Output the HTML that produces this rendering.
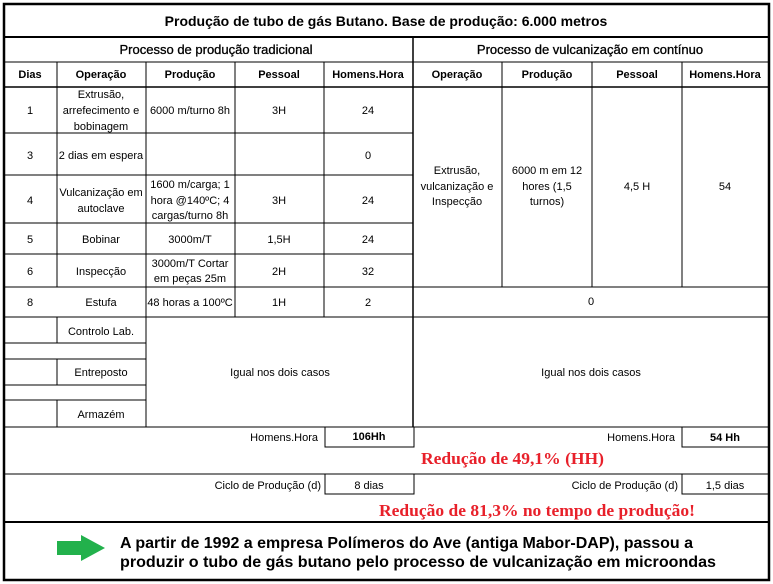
<!DOCTYPE html>
<html><head><meta charset="utf-8"><style>
html,body{margin:0;padding:0;background:#fff;width:773px;height:584px;overflow:hidden}
svg{display:block}
text{font-family:"Liberation Sans",sans-serif;fill:#000}
.c{font-size:11px;text-anchor:middle}
.h{font-size:11px;font-weight:bold;text-anchor:middle}
.r{font-family:"Liberation Serif",serif;font-size:17px;font-weight:bold;fill:#e8202a}
</style></head><body>
<svg width="773" height="584" viewBox="0 0 773 584">
<g stroke="#000" stroke-width="1" fill="none">
<line x1="4" y1="37" x2="769" y2="37" stroke-width="2"/>
<line x1="4" y1="62" x2="769" y2="62"/>
<line x1="4" y1="87" x2="769" y2="87" stroke-width="1.5"/>
<line x1="4" y1="133" x2="413" y2="133"/>
<line x1="4" y1="175" x2="413" y2="175"/>
<line x1="4" y1="223" x2="413" y2="223"/>
<line x1="4" y1="254" x2="413" y2="254"/>
<line x1="4" y1="287" x2="769" y2="287"/>
<line x1="4" y1="317" x2="769" y2="317"/>
<line x1="4" y1="343" x2="146" y2="343"/>
<line x1="4" y1="359" x2="146" y2="359"/>
<line x1="4" y1="385" x2="146" y2="385"/>
<line x1="4" y1="400" x2="146" y2="400"/>
<line x1="4" y1="427" x2="769" y2="427"/>
<line x1="4" y1="474" x2="769" y2="474"/>
<line x1="4" y1="522" x2="769" y2="522" stroke-width="2"/>
<rect x="325" y="427" width="89" height="20"/>
<rect x="682" y="427" width="87" height="20"/>
<rect x="325" y="474" width="89" height="20"/>
<rect x="682" y="474" width="87" height="20"/>
<line x1="57" y1="62" x2="57" y2="287"/>
<line x1="146" y1="62" x2="146" y2="427"/>
<line x1="235" y1="62" x2="235" y2="317"/>
<line x1="324" y1="62" x2="324" y2="317"/>
<line x1="413" y1="37" x2="413" y2="427" stroke-width="1.5"/>
<line x1="502" y1="62" x2="502" y2="287"/>
<line x1="592" y1="62" x2="592" y2="287"/>
<line x1="682" y1="62" x2="682" y2="287"/>
<line x1="57" y1="317" x2="57" y2="343"/>
<line x1="57" y1="359" x2="57" y2="385"/>
<line x1="57" y1="400" x2="57" y2="427"/>
<rect x="4" y="4" width="765" height="576" stroke-width="2.5"/>
</g>
<text x="386" y="26" style="font-size:14px;font-weight:bold;text-anchor:middle">Produção de tubo de gás Butano. Base de produção: 6.000 metros</text>
<text x="216" y="54" style="font-size:13px;text-anchor:middle;stroke:#000;stroke-width:0.3">Processo de produção tradicional</text>
<text x="590" y="54" style="font-size:13px;text-anchor:middle;stroke:#000;stroke-width:0.3">Processo de vulcanização em contínuo</text>
<text class="h" x="30" y="78">Dias</text><text class="h" x="101" y="78">Operação</text><text class="h" x="190" y="78">Produção</text><text class="h" x="279" y="78">Pessoal</text><text class="h" x="368" y="78">Homens.Hora</text>
<text class="h" x="457" y="78">Operação</text><text class="h" x="547" y="78">Produção</text><text class="h" x="637" y="78">Pessoal</text><text class="h" x="725" y="78">Homens.Hora</text>
<text class="c" x="30" y="114">1</text>
<text class="c" x="101" y="98">Extrusão,</text><text class="c" x="101" y="114">arrefecimento e</text><text class="c" x="101" y="130">bobinagem</text>
<text class="c" x="190" y="114">6000 m/turno 8h</text><text class="c" x="279" y="114">3H</text><text class="c" x="368" y="114">24</text>
<text class="c" x="30" y="159">3</text><text class="c" x="101" y="159">2 dias em espera</text><text class="c" x="368" y="159">0</text>
<text class="c" x="30" y="204">4</text><text class="c" x="101" y="196">Vulcanização em</text><text class="c" x="101" y="212">autoclave</text>
<text class="c" x="190" y="188">1600 m/carga; 1</text><text class="c" x="190" y="204">hora @140ºC; 4</text><text class="c" x="190" y="219">cargas/turno 8h</text>
<text class="c" x="279" y="204">3H</text><text class="c" x="368" y="204">24</text>
<text class="c" x="30" y="243">5</text><text class="c" x="101" y="243">Bobinar</text><text class="c" x="190" y="243">3000m/T</text><text class="c" x="279" y="243">1,5H</text><text class="c" x="368" y="243">24</text>
<text class="c" x="30" y="275">6</text><text class="c" x="101" y="275">Inspecção</text><text class="c" x="190" y="267">3000m/T Cortar</text><text class="c" x="190" y="282">em peças 25m</text><text class="c" x="279" y="275">2H</text><text class="c" x="368" y="275">32</text>
<text class="c" x="30" y="306">8</text><text class="c" x="101" y="306">Estufa</text><text class="c" x="190" y="306">48 horas a 100ºC</text><text class="c" x="279" y="306">1H</text><text class="c" x="368" y="306">2</text>
<text class="c" x="457" y="174">Extrusão,</text><text class="c" x="457" y="190">vulcanização e</text><text class="c" x="457" y="205">Inspecção</text>
<text class="c" x="547" y="174">6000 m em 12</text><text class="c" x="547" y="190">hores (1,5</text><text class="c" x="547" y="205">turnos)</text>
<text class="c" x="637" y="190">4,5 H</text><text class="c" x="725" y="190">54</text>
<text class="c" x="591" y="305">0</text>
<text class="c" x="101" y="335">Controlo Lab.</text><text class="c" x="101" y="376">Entreposto</text><text class="c" x="101" y="418">Armazém</text>
<text class="c" x="280" y="376">Igual nos dois casos</text><text class="c" x="591" y="376">Igual nos dois casos</text>
<text x="318" y="441" style="font-size:11px;text-anchor:end">Homens.Hora</text>
<text class="h" x="369" y="440">106Hh</text>
<text x="675" y="441" style="font-size:11px;text-anchor:end">Homens.Hora</text>
<text class="h" x="725" y="441">54 Hh</text>
<text class="r" x="421" y="464" textLength="183" lengthAdjust="spacingAndGlyphs">Redução de 49,1% (HH)</text>
<text x="321" y="489" style="font-size:11px;text-anchor:end">Ciclo de Produção (d)</text>
<text class="c" x="369" y="489">8 dias</text>
<text x="678" y="489" style="font-size:11px;text-anchor:end">Ciclo de Produção (d)</text>
<text class="c" x="725" y="489">1,5 dias</text>
<text class="r" x="379" y="516" textLength="316" lengthAdjust="spacingAndGlyphs">Redução de 81,3% no tempo de produção!</text>
<polygon points="57,541 81,541 81,535 105,548 81,561 81,555 57,555" fill="#22b14c"/>
<text x="120" y="548" style="font-size:16px;font-weight:bold" textLength="573" lengthAdjust="spacingAndGlyphs">A partir de 1992 a empresa Polímeros do Ave (antiga Mabor-DAP), passou a</text>
<text x="120" y="567" style="font-size:16px;font-weight:bold" textLength="596" lengthAdjust="spacingAndGlyphs">produzir o tubo de gás butano pelo processo de vulcanização em microondas</text>
</svg>
</body></html>
